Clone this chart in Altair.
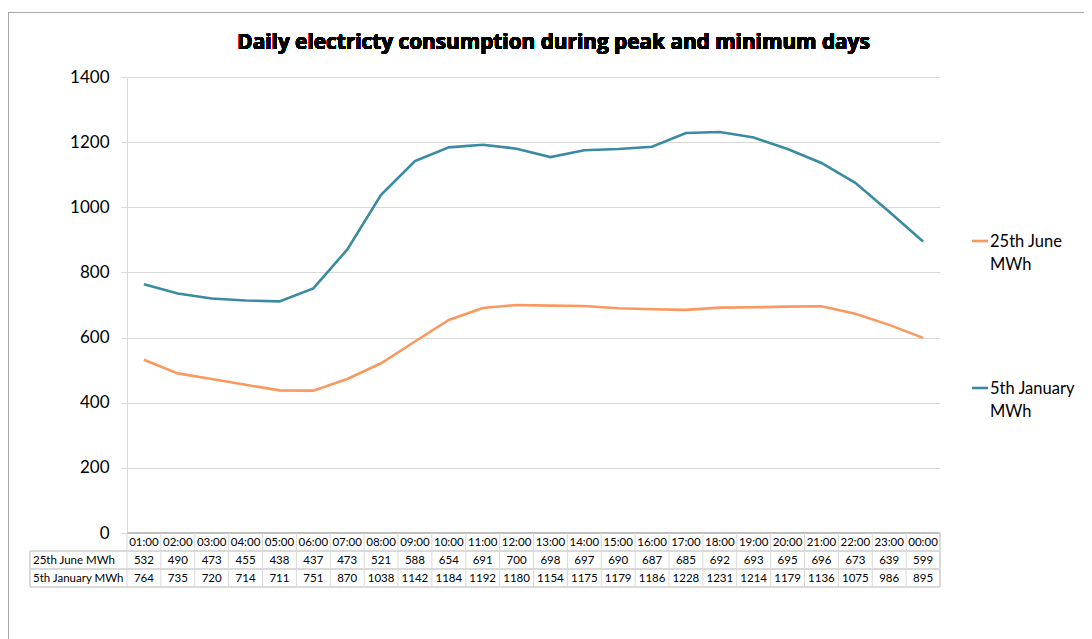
import altair as alt
import pandas as pd

hours = ["01:00", "02:00", "03:00", "04:00", "05:00", "06:00", "07:00", "08:00",
         "09:00", "10:00", "11:00", "12:00", "13:00", "14:00", "15:00", "16:00",
         "17:00", "18:00", "19:00", "20:00", "21:00", "22:00", "23:00", "00:00"]
june = [532, 490, 473, 455, 438, 437, 473, 521, 588, 654, 691, 700,
        698, 697, 690, 687, 685, 692, 693, 695, 696, 673, 639, 599]
january = [764, 735, 720, 714, 711, 751, 870, 1038, 1142, 1184, 1192, 1180,
           1154, 1175, 1179, 1186, 1228, 1231, 1214, 1179, 1136, 1075, 986, 895]
series_names = ["25th June MWh", "5th January MWh"]
legend_lines = [["25th June", "MWh"], ["5th January", "MWh"]]
colors = ["#F9995F", "#3A8BA2"]
title = "Daily electricty consumption during peak and minimum days"

rows = []
for name, vals in zip(series_names, [june, january]):
    for h, v in zip(hours, vals):
        rows.append({"hour": h, "series": name, "value": v})
df = pd.DataFrame(rows)
hdf = pd.DataFrame({"hour": hours})

W, H = 813, 456
STEP = W / len(hours)
FONT = "Lato"
GRID = "#D9D9D9"

xenc = alt.X("hour:O", sort=hours, scale=alt.Scale(type="point", padding=0.5), axis=None)

base = alt.Chart(df)

lines = base.mark_line(strokeWidth=2.6).encode(
    x=xenc,
    y=alt.Y("value:Q", scale=alt.Scale(domain=[0, 1400], nice=False),
            axis=alt.Axis(values=list(range(0, 1401, 200)), title=None, format="d",
                          labelFont=FONT, labelFontSize=17, labelColor="#000000",
                          labelPadding=12, tickSize=6, tickColor=GRID,
                          domainColor=GRID, gridColor=GRID)),
    color=alt.Color("series:N", scale=alt.Scale(domain=series_names, range=colors), legend=None),
)

# x-axis line (top of table)
xaxis_line = alt.Chart(hdf).mark_rule(color="#BFBFBF").encode(
    x=alt.value(0), x2=alt.value(W), y=alt.value(H))

# table vertical separators
vlines = alt.Chart(hdf).mark_rule(color=GRID, xOffset=-STEP / 2).encode(
    x=xenc, y=alt.value(H), y2=alt.value(H + 54))
vlast = alt.Chart(hdf).mark_rule(color=GRID).encode(
    x=alt.value(W), y=alt.value(H), y2=alt.value(H + 54))
vlabel = alt.Chart(hdf).mark_rule(color=GRID).encode(
    x=alt.value(-97), y=alt.value(H + 18), y2=alt.value(H + 54))
hlines = [alt.Chart(hdf).mark_rule(color=GRID).encode(
    x=alt.value(-97), x2=alt.value(W), y=alt.value(H + 18 * k)) for k in (1, 2, 3)]

header = alt.Chart(hdf).mark_text(font=FONT, fontSize=11.5, color="#000000").encode(
    x=xenc, y=alt.value(H + 9.5), text="hour:N")

cells = []
for i, name in enumerate(series_names):
    yrow = H + 18 * (i + 1) + 9.5
    cells.append(base.transform_filter(alt.datum.series == name).mark_text(
        font=FONT, fontSize=11.5, color="#000000").encode(
        x=xenc, y=alt.value(yrow), text="value:Q"))
    cells.append(alt.Chart(pd.DataFrame({"series": [name]})).mark_text(
        font=FONT, fontSize=11.5, color="#000000", align="left").encode(
        x=alt.value(-94), y=alt.value(yrow), text="series:N"))

# legend
legend = []
for i, (name, lbl) in enumerate(zip(series_names, legend_lines)):
    ly = 164 + 147 * i
    ldf = pd.DataFrame({"series": [name]})
    legend.append(alt.Chart(ldf).mark_rule(strokeWidth=2.6, color=colors[i]).encode(
        x=alt.value(845), x2=alt.value(861), y=alt.value(ly)))
    legend.append(alt.Chart(ldf).mark_text(
        font=FONT, fontSize=16.5, color="#000000", align="left", baseline="middle",
        lineHeight=23, text=lbl, dy=1).encode(
        x=alt.value(863), y=alt.value(ly)))

frame = alt.Chart(hdf).mark_rect(fill=None, stroke="#A6A6A6", strokeWidth=1).encode(
    x=alt.value(-118.5), x2=alt.value(1100), y=alt.value(-64.5), y2=alt.value(700))

titletext = alt.Chart(hdf).mark_text(
    font="Open Sans", fontSize=20.8, fontWeight="bold", color="#000000", text=title).encode(
    x=alt.value(W / 2 + 20), y=alt.value(-34))

chart = alt.layer(
    frame, lines, xaxis_line, vlines, vlast, vlabel, *hlines, header, *cells, *legend, titletext
).properties(
    width=W, height=H,
    padding={"left": 119, "top": 69, "right": 144, "bottom": 106},
    autosize=alt.AutoSizeParams(type="none"),
).configure_view(stroke=None)

chart.save("out.html", embed_options={"renderer": "svg", "actions": False})
